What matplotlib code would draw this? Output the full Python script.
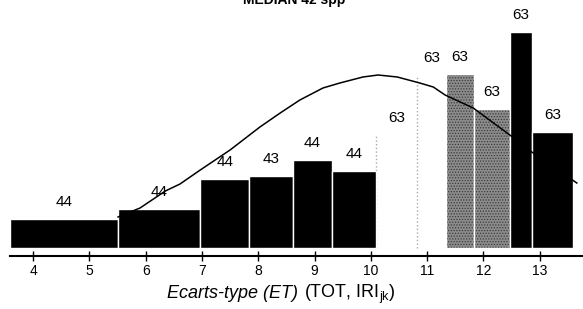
import numpy as np
import matplotlib
matplotlib.use('Agg')
import matplotlib.pyplot as plt

plt.rcParams['font.family'] = ['Liberation Sans', 'DejaVu Sans']
plt.rcParams['mathtext.fontset'] = 'custom'
plt.rcParams['mathtext.rm'] = 'Liberation Sans'
plt.rcParams['mathtext.it'] = 'Liberation Sans:italic'
plt.rcParams['hatch.linewidth'] = 0.6

# bar edges (ET classes), heights and labels
edges = [3.59, 5.51, 6.97, 7.84, 8.62, 9.31, 10.09, 10.82, 11.34, 11.83, 12.47, 12.86, 13.59]
heights = [29, 39, 69, 72, 88, 77, 113, 173, 174, 139, 216, 116]
labels = ['44', '44', '44', '43', '44', '44', '63', '63', '63', '63', '63', '63']
styles = ['black'] * 6 + ['white', 'white', 'grey', 'grey', 'black', 'black']

# fitted curve
curve_x = [5.51, 5.90, 6.35, 6.61, 6.97, 7.50, 8.03, 8.39, 8.74, 9.15, 9.45, 9.86,
           10.13, 10.47, 10.87, 11.11, 11.32, 11.82, 12.47, 12.86, 13.66]
curve_y = [31, 40, 57, 64, 78, 98, 121, 135, 148, 160, 165, 171,
           173, 171, 165, 161, 153, 140, 113, 96, 65]

ticks = list(range(4, 14))

fig = plt.figure(figsize=(5.83, 3.09), dpi=100)
ax = fig.add_axes([10/583, 53/309, 573/583, 256/309])
ax.set_xlim(3.59, 13.77)
ax.set_ylim(-8, 248)

left = np.array(edges[:-1])
width = np.diff(edges)
for l, w, h, s, lab in zip(left, width, heights, styles, labels):
    if s == 'black':
        ax.bar(l, h, width=w, align='edge', color='black', edgecolor='white', linewidth=1, zorder=2)
    elif s == 'grey':
        ax.bar(l, h, width=w, align='edge', color='#8c8c8c', edgecolor='#3a3a3a', hatch='......',
               linewidth=0, zorder=2)
        ax.bar(l, h, width=w, align='edge', fill=False, edgecolor='white', linewidth=1, zorder=2)
    else:
        # empty bar: only a faint dotted left edge shows
        ax.bar(l, h, width=w, align='edge', color='white', linewidth=0, zorder=1)
        ax.vlines(l, 0, h, colors='#a8a8a8', linestyles=':', linewidth=1, zorder=1)
    ax.text(l + w / 2, h + 17, lab, ha='center', va='center', fontsize=11)

ax.plot(curve_x, curve_y, color='black', linewidth=1.1, zorder=3)

for s in ['top', 'right', 'left']:
    ax.spines[s].set_visible(False)
ax.spines['bottom'].set_linewidth(1.5)
ax.set_yticks([])
ax.set_xticks(ticks)
ax.tick_params(axis='x', direction='inout', length=7, width=1, labelsize=10, pad=2)

fig.text(298/583, 11/309, 'Ecarts-type (ET)', ha='right', va='baseline', fontsize=13, style='italic')
fig.text(304/583, 11/309, r'(TOT, IRI$_{\mathrm{jk}}$)', ha='left', va='baseline', fontsize=13)
fig.text(294/583, 1.0, 'MEDIAN 42 spp', ha='center', va='center', fontsize=10, fontweight='bold')

fig.savefig('out.png', dpi=100)
